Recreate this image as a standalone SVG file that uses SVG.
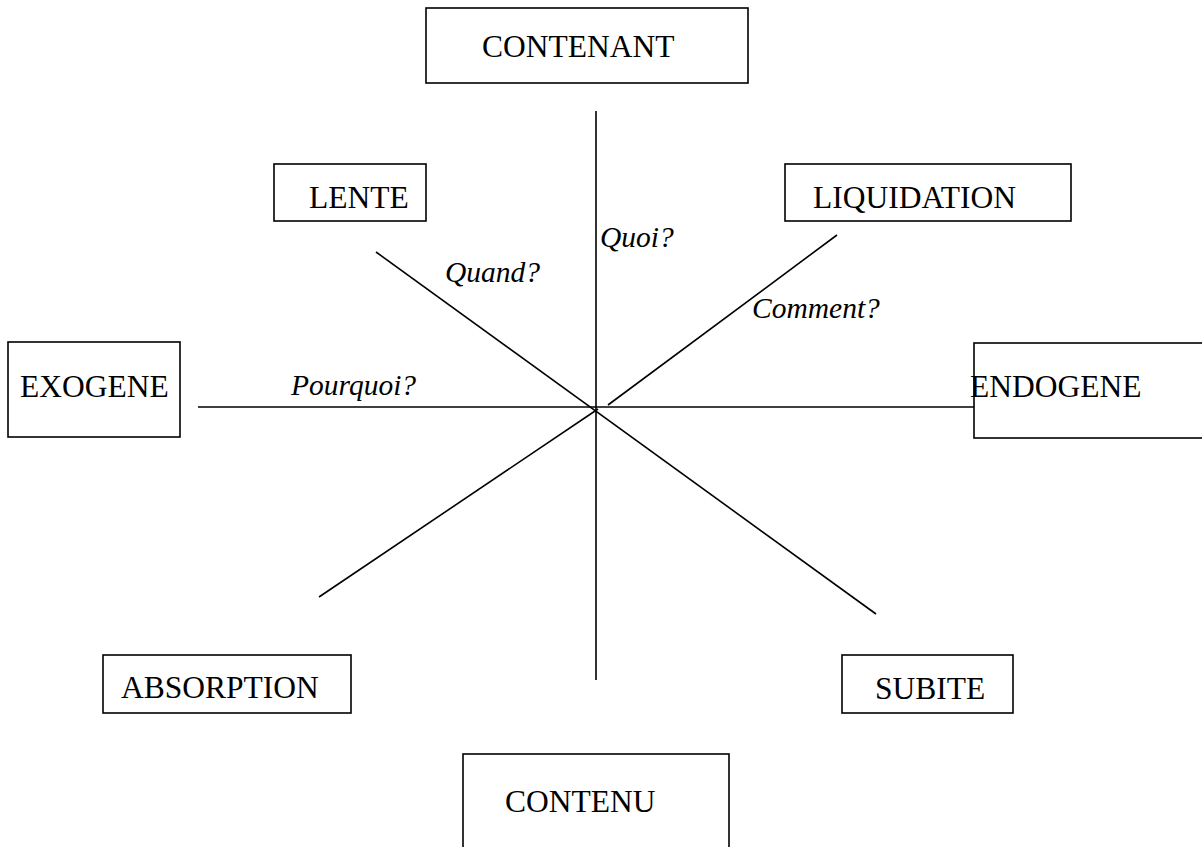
<svg xmlns="http://www.w3.org/2000/svg" width="1202" height="847" viewBox="0 0 1202 847">
<style>
.box{fill:#fff;stroke:#000;stroke-width:1.6}
.lbl{font-family:"Liberation Serif","Times New Roman",serif;font-size:31.5px;fill:#000}
.q{font-family:"Liberation Serif","Times New Roman",serif;font-size:29.5px;font-style:italic;fill:#000}
.ln{stroke:#000;stroke-width:1.6;fill:none}
</style>
<rect width="1202" height="847" fill="#fff"/>
<g id="connectors">
<line class="ln" x1="596" y1="111" x2="596" y2="680"/>
<line class="ln" x1="198" y1="407" x2="974" y2="407"/>
<line class="ln" x1="376" y1="252" x2="876" y2="614"/>
<line class="ln" x1="837" y1="235" x2="608" y2="405"/>
<line class="ln" x1="598" y1="409" x2="319" y2="597"/>
</g>
<g id="labels">
<text class="q" x="600" y="247">Quoi?</text>
<text class="q" x="445" y="282">Quand?</text>
<text class="q" x="752" y="318">Comment?</text>
<text class="q" x="291" y="395">Pourquoi?</text>
</g>
<g id="contenant"><rect class="box" x="426" y="8" width="322" height="75"/><text class="lbl" x="482" y="57">CONTENANT</text></g>
<g id="lente"><rect class="box" x="274" y="164" width="152" height="57"/><text class="lbl" x="309" y="208">LENTE</text></g>
<g id="liquidation"><rect class="box" x="785" y="164" width="286" height="57"/><text class="lbl" x="813" y="208">LIQUIDATION</text></g>
<g id="exogene"><rect class="box" x="8" y="342" width="172" height="95"/><text class="lbl" x="20" y="397">EXOGENE</text></g>
<g id="endogene"><rect class="box" x="974" y="343" width="232" height="95"/><text class="lbl" x="970" y="397">ENDOGENE</text></g>
<g id="absorption"><rect class="box" x="103" y="655" width="248" height="58"/><text class="lbl" x="121" y="698">ABSORPTION</text></g>
<g id="subite"><rect class="box" x="842" y="655" width="171" height="58"/><text class="lbl" x="875" y="699">SUBITE</text></g>
<g id="contenu"><rect class="box" x="463" y="754" width="266" height="110"/><text class="lbl" x="505" y="812">CONTENU</text></g>
</svg>
